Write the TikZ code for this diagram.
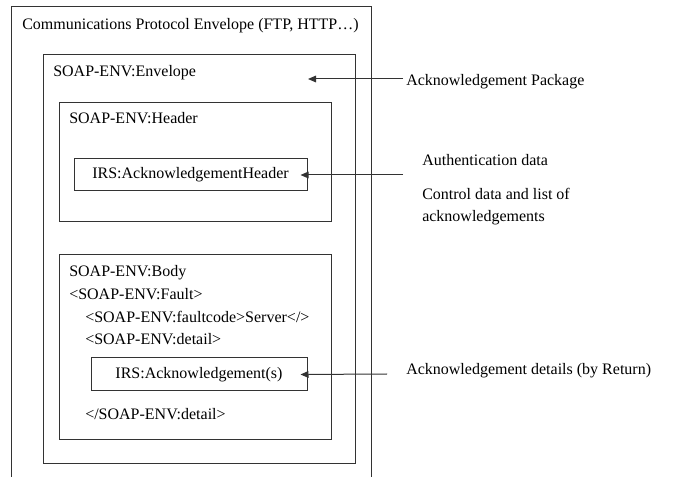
\documentclass[tikz,border=0pt]{standalone}
\usepackage{fontspec}
\setmainfont{Liberation Serif}
\usetikzlibrary{arrows.meta,positioning}

\begin{document}
\begin{tikzpicture}[x=0.75pt,y=-0.75pt,font=\fontsize{12}{14}\selectfont]

\tikzset{box/.style={draw=black!80,line width=0.75pt,inner sep=0pt},
txt/.style={inner sep=0pt,anchor=base west},
ackarrow/.style={draw=black!80,line width=0.75pt,-{Triangle[length=6pt,width=5pt]}}}

\useasboundingbox (0,0) rectangle (693,477);

% Envelopes
\draw[box] (11,477) |- (371,7) -- (371,477);
\draw[box] (43,55) rectangle (355,463);
\draw[box] (59,103) rectangle (331,222);
\draw[box] (59,255) rectangle (331,439);

% Box titles
\node[txt] (comm) at (22,30) {Communications Protocol Envelope (FTP, HTTP…)};
\node[txt] (env) at (53,77) {SOAP-ENV:Envelope};
\node[txt] (hdr) at (69,124) {SOAP-ENV:Header};
\node[txt] (body) at (69,277) {SOAP-ENV:Body};
\node[txt] (fault) at (69,300) {<SOAP-ENV:Fault>};
\node[txt] (fcode) at (85,323) {<SOAP-ENV:faultcode>Server</>};
\node[txt] (detail) at (85,345) {<SOAP-ENV:detail>};
\node[txt] (enddetail) at (85,420) {</SOAP-ENV:detail>};

% Inner boxes
\node[box,minimum width=174.75pt,minimum height=24pt] (ackhdr) at (190.5,175) {IRS:AcknowledgementHeader};
\node[box,minimum width=162pt,minimum height=24.75pt] (acks) at (199,374.5) {IRS:Acknowledgement(s)};

% Right hand notes
\node[txt] (pkg) at (406,86) {Acknowledgement Package};
\node[txt] (auth) at (422,166) {Authentication data};
\node[txt] (ctrl) at (422,200) {Control data and list of};
\node[txt] (ctrlb) at (422,222) {acknowledgements};
\node[txt] (details) at (406,375) {Acknowledgement details (by Return)};

% Arrows
\coordinate (pkgIn) at (403,79);
\coordinate (envTip) at (308,79);
\coordinate (authIn) at (403,175);
\coordinate (detailsIn) at (387,374);
\draw[ackarrow] (pkgIn) -- (envTip);
\draw[ackarrow] (authIn) -- ([xshift=-5.25pt]ackhdr.east);
\draw[ackarrow] (detailsIn) -- ([xshift=-5.25pt]acks.east);

\end{tikzpicture}
\end{document}
